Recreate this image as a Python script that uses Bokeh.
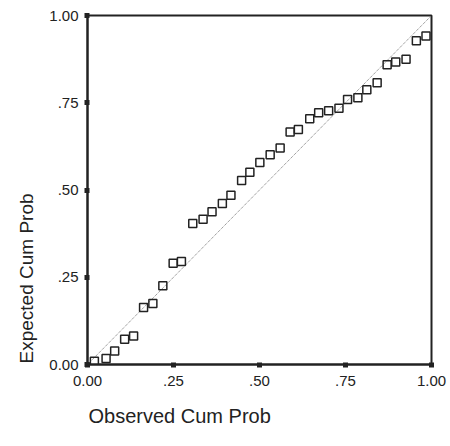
from bokeh.plotting import figure
from bokeh.models import FixedTicker, Range1d, Title
from bokeh.embed import file_html
from bokeh.resources import INLINE

# Observed cumulative probability (x) and expected cumulative probability (y)
observed = [0.020, 0.054, 0.079, 0.108, 0.134, 0.163, 0.190, 0.219, 0.249, 0.273,
            0.306, 0.336, 0.362, 0.392, 0.417, 0.448, 0.472, 0.501, 0.531, 0.560,
            0.589, 0.613, 0.646, 0.672, 0.701, 0.731, 0.756, 0.786, 0.812, 0.842,
            0.871, 0.896, 0.926, 0.956, 0.984]
expected = [0.009, 0.017, 0.039, 0.072, 0.082, 0.163, 0.175, 0.226, 0.290, 0.295,
            0.404, 0.416, 0.438, 0.461, 0.485, 0.527, 0.551, 0.579, 0.601, 0.620,
            0.666, 0.673, 0.704, 0.721, 0.727, 0.734, 0.759, 0.764, 0.787, 0.807,
            0.859, 0.867, 0.875, 0.928, 0.941]
ref_line = [0.0, 1.0]
tick_values = [0.0, 0.25, 0.5, 0.75, 1.0]
tick_labels = ["0.00", ".25", ".50", ".75", "1.00"]
x_title = "Observed Cum Prob"
y_title = "Expected Cum Prob"

FONT = "Liberation Sans"
INK = "#222222"

p = figure(width=450, height=446, output_backend="svg", toolbar_location=None,
           x_range=Range1d(0, 1), y_range=Range1d(0, 1),
           min_border_left=87, min_border_right=19, min_border_top=15,
           min_border_bottom=82)
p.grid.visible = False
p.background_fill_color = "white"
p.border_fill_color = "white"
p.outline_line_color = INK
p.outline_line_width = 2

for ax in (p.xaxis[0], p.yaxis[0]):
    ax.ticker = FixedTicker(ticks=tick_values)
    ax.major_label_overrides = {v: l for v, l in zip(tick_values, tick_labels)}
    ax.minor_tick_line_color = None
    ax.axis_line_color = INK
    ax.axis_line_width = 2
    ax.major_tick_line_color = INK
    ax.major_tick_line_width = 5
    ax.major_tick_in = 2
    ax.major_tick_out = 3
    ax.major_label_text_font = FONT
    ax.major_label_text_font_size = "15px"
    ax.major_label_text_color = INK
p.xaxis.major_label_standoff = 8
p.yaxis.major_label_standoff = 6

# reference diagonal
p.line(ref_line, ref_line, line_color="#777777", line_width=1, line_dash="1 1")

# P-P points
p.scatter(observed, expected, marker="square", size=8, fill_color=None,
          line_color=INK, line_width=1.5)

p.add_layout(Title(text=x_title, align="left", offset=1, standoff=28,
                   vertical_align="bottom",
                   text_font=FONT, text_font_size="20px",
                   text_font_style="normal", text_color=INK), "below")
p.add_layout(Title(text=y_title, align="left", offset=1, standoff=20,
                   text_font=FONT, text_font_size="19px",
                   text_font_style="normal", text_color=INK), "left")

open("out.html", "w").write(file_html(p, INLINE))
